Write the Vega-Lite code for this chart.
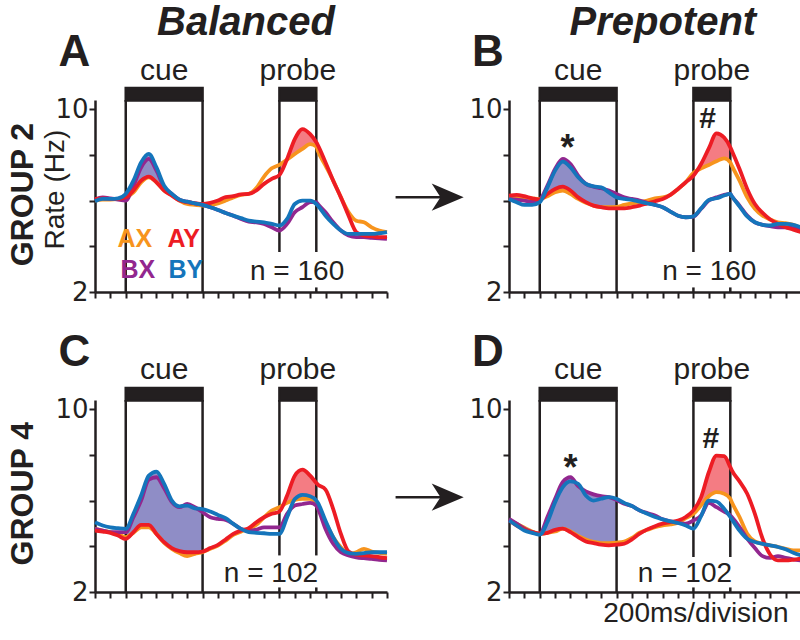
{
"$schema": "https://vega.github.io/schema/vega-lite/v6.json",
"autosize": {"type": "pad"},
"padding": {"left": 7, "top": 2, "right": 0, "bottom": 0},
"background": "white",
"data": {"values": [
{"k":"s","p":"A","t":0,"AX":6.00,"AY":6.07,"BX":6.04,"BY":5.97},
{"k":"s","p":"A","t":0.5,"AX":6.04,"AY":6.10,"BX":6.14,"BY":6.07},
{"k":"s","p":"A","t":1,"AX":6.04,"AY":6.07,"BX":6.10,"BY":6.07},
{"k":"s","p":"A","t":1.5,"AX":6.07,"AY":6.07,"BX":6.04,"BY":6.10},
{"k":"s","p":"A","t":2,"AX":6.14,"AY":6.14,"BX":6.00,"BY":6.29},
{"k":"s","p":"A","t":2.5,"AX":6.36,"AY":6.44,"BX":6.65,"BY":6.87},
{"k":"s","p":"A","t":3,"AX":6.80,"AY":6.87,"BX":7.45,"BY":7.67},
{"k":"s","p":"A","t":3.5,"AX":7.02,"AY":7.05,"BX":7.82,"BY":8.04},
{"k":"s","p":"A","t":4,"AX":6.80,"AY":6.80,"BX":7.31,"BY":7.45},
{"k":"s","p":"A","t":4.5,"AX":6.44,"AY":6.44,"BX":6.58,"BY":6.65},
{"k":"s","p":"A","t":5,"AX":6.25,"AY":6.22,"BX":6.29,"BY":6.29},
{"k":"s","p":"A","t":5.5,"AX":6.00,"AY":6.00,"BX":6.04,"BY":6.04},
{"k":"s","p":"A","t":6,"AX":5.85,"AY":5.93,"BX":5.95,"BY":5.95},
{"k":"s","p":"A","t":6.5,"AX":5.81,"AY":5.88,"BX":5.88,"BY":5.88},
{"k":"s","p":"A","t":7,"AX":5.78,"AY":5.85,"BX":5.81,"BY":5.81},
{"k":"s","p":"A","t":7.5,"AX":5.81,"AY":5.90,"BX":5.71,"BY":5.71},
{"k":"s","p":"A","t":8,"AX":5.88,"AY":6.00,"BX":5.59,"BY":5.59},
{"k":"s","p":"A","t":8.5,"AX":6.00,"AY":6.15,"BX":5.46,"BY":5.46},
{"k":"s","p":"A","t":9,"AX":6.14,"AY":6.19,"BX":5.34,"BY":5.34},
{"k":"s","p":"A","t":9.5,"AX":6.25,"AY":6.27,"BX":5.20,"BY":5.23},
{"k":"s","p":"A","t":10,"AX":6.29,"AY":6.29,"BX":5.08,"BY":5.12},
{"k":"s","p":"A","t":10.5,"AX":6.55,"AY":6.44,"BX":5.05,"BY":5.08},
{"k":"s","p":"A","t":11,"AX":7.05,"AY":6.73,"BX":4.98,"BY":5.05},
{"k":"s","p":"A","t":11.5,"AX":7.41,"AY":6.95,"BX":4.83,"BY":4.98},
{"k":"s","p":"A","t":12,"AX":7.56,"AY":7.12,"BX":4.69,"BY":4.91},
{"k":"s","p":"A","t":12.5,"AX":7.79,"AY":7.82,"BX":4.98,"BY":5.20},
{"k":"s","p":"A","t":13,"AX":8.04,"AY":8.69,"BX":5.49,"BY":5.85},
{"k":"s","p":"A","t":13.5,"AX":8.26,"AY":9.13,"BX":5.71,"BY":6.00},
{"k":"s","p":"A","t":14,"AX":8.47,"AY":8.91,"BX":5.93,"BY":6.00},
{"k":"s","p":"A","t":14.4,"AX":8.37,"AY":8.55,"BX":5.93,"BY":5.85},
{"k":"s","p":"A","t":14.5,"AX":8.18,"AY":8.43,"BX":5.85,"BY":5.78},
{"k":"s","p":"A","t":15,"AX":7.53,"AY":7.67,"BX":5.49,"BY":5.34},
{"k":"s","p":"A","t":15.5,"AX":6.87,"AY":6.87,"BX":5.05,"BY":4.98},
{"k":"s","p":"A","t":16,"AX":6.14,"AY":6.14,"BX":4.69,"BY":4.69},
{"k":"s","p":"A","t":16.5,"AX":5.49,"AY":5.34,"BX":4.47,"BY":4.54},
{"k":"s","p":"A","t":17,"AX":5.12,"AY":4.62,"BX":4.40,"BY":4.54},
{"k":"s","p":"A","t":17.5,"AX":5.05,"AY":4.47,"BX":4.40,"BY":4.54},
{"k":"s","p":"A","t":18,"AX":4.83,"AY":4.44,"BX":4.37,"BY":4.54},
{"k":"s","p":"A","t":18.5,"AX":4.69,"AY":4.40,"BX":4.35,"BY":4.57},
{"k":"s","p":"A","t":19,"AX":4.62,"AY":4.40,"BX":4.32,"BY":4.62},
{"k":"s","p":"B","t":0,"AX":6.14,"AY":6.22,"BX":6.07,"BY":6.07},
{"k":"s","p":"B","t":0.5,"AX":6.14,"AY":6.25,"BX":6.04,"BY":5.93},
{"k":"s","p":"B","t":1,"AX":6.13,"AY":6.19,"BX":6.00,"BY":5.81},
{"k":"s","p":"B","t":1.5,"AX":6.10,"AY":6.10,"BX":5.95,"BY":5.81},
{"k":"s","p":"B","t":2,"AX":6.07,"AY":6.04,"BX":6.04,"BY":5.93},
{"k":"s","p":"B","t":2.5,"AX":6.19,"AY":6.29,"BX":6.65,"BY":6.58},
{"k":"s","p":"B","t":3,"AX":6.36,"AY":6.51,"BX":7.38,"BY":7.31},
{"k":"s","p":"B","t":3.5,"AX":6.44,"AY":6.61,"BX":7.82,"BY":7.70},
{"k":"s","p":"B","t":4,"AX":6.29,"AY":6.44,"BX":7.60,"BY":7.45},
{"k":"s","p":"B","t":4.5,"AX":6.07,"AY":6.14,"BX":7.09,"BY":7.02},
{"k":"s","p":"B","t":5,"AX":5.90,"AY":5.93,"BX":6.73,"BY":6.73},
{"k":"s","p":"B","t":5.5,"AX":5.78,"AY":5.78,"BX":6.61,"BY":6.62},
{"k":"s","p":"B","t":6,"AX":5.71,"AY":5.71,"BX":6.54,"BY":6.58},
{"k":"s","p":"B","t":6.5,"AX":5.71,"AY":5.66,"BX":6.44,"BY":6.36},
{"k":"s","p":"B","t":7,"AX":5.72,"AY":5.66,"BX":6.29,"BY":6.14},
{"k":"s","p":"B","t":7.5,"AX":5.81,"AY":5.66,"BX":6.14,"BY":6.07},
{"k":"s","p":"B","t":8,"AX":5.88,"AY":5.71,"BX":6.07,"BY":6.03},
{"k":"s","p":"B","t":8.5,"AX":5.93,"AY":5.78,"BX":6.00,"BY":5.95},
{"k":"s","p":"B","t":9,"AX":6.00,"AY":5.88,"BX":5.90,"BY":5.88},
{"k":"s","p":"B","t":9.5,"AX":6.10,"AY":5.97,"BX":5.81,"BY":5.81},
{"k":"s","p":"B","t":10,"AX":6.14,"AY":6.07,"BX":5.71,"BY":5.71},
{"k":"s","p":"B","t":10.5,"AX":6.25,"AY":6.25,"BX":5.52,"BY":5.52},
{"k":"s","p":"B","t":11,"AX":6.51,"AY":6.51,"BX":5.34,"BY":5.34},
{"k":"s","p":"B","t":11.5,"AX":6.80,"AY":6.80,"BX":5.27,"BY":5.27},
{"k":"s","p":"B","t":12,"AX":7.21,"AY":7.09,"BX":5.30,"BY":5.31},
{"k":"s","p":"B","t":12.5,"AX":7.41,"AY":7.60,"BX":5.64,"BY":5.66},
{"k":"s","p":"B","t":13,"AX":7.56,"AY":8.28,"BX":6.00,"BY":6.03},
{"k":"s","p":"B","t":13.5,"AX":7.72,"AY":8.94,"BX":6.14,"BY":6.10},
{"k":"s","p":"B","t":14,"AX":7.85,"AY":8.76,"BX":6.25,"BY":6.22},
{"k":"s","p":"B","t":14.4,"AX":7.67,"AY":8.33,"BX":6.29,"BY":6.29},
{"k":"s","p":"B","t":14.5,"AX":7.53,"AY":8.18,"BX":6.19,"BY":6.19},
{"k":"s","p":"B","t":15,"AX":6.87,"AY":7.38,"BX":5.78,"BY":5.75},
{"k":"s","p":"B","t":15.5,"AX":6.14,"AY":6.51,"BX":5.34,"BY":5.31},
{"k":"s","p":"B","t":16,"AX":5.64,"AY":5.85,"BX":5.05,"BY":5.05},
{"k":"s","p":"B","t":16.5,"AX":5.34,"AY":5.46,"BX":4.94,"BY":4.94},
{"k":"s","p":"B","t":17,"AX":5.17,"AY":5.17,"BX":4.88,"BY":4.91},
{"k":"s","p":"B","t":17.5,"AX":5.05,"AY":4.98,"BX":4.83,"BY":4.98},
{"k":"s","p":"B","t":18,"AX":5.01,"AY":4.83,"BX":4.83,"BY":4.98},
{"k":"s","p":"B","t":18.5,"AX":4.94,"AY":4.73,"BX":4.79,"BY":4.94},
{"k":"s","p":"B","t":19,"AX":4.79,"AY":4.62,"BX":4.73,"BY":4.83},
{"k":"s","p":"C","t":0,"AX":4.76,"AY":4.69,"BX":4.76,"BY":5.05},
{"k":"s","p":"C","t":0.5,"AX":4.69,"AY":4.64,"BX":4.69,"BY":4.91},
{"k":"s","p":"C","t":1,"AX":4.62,"AY":4.59,"BX":4.62,"BY":4.83},
{"k":"s","p":"C","t":1.5,"AX":4.54,"AY":4.47,"BX":4.62,"BY":4.79},
{"k":"s","p":"C","t":2,"AX":4.40,"AY":4.32,"BX":4.62,"BY":4.76},
{"k":"s","p":"C","t":2.5,"AX":4.59,"AY":4.62,"BX":5.27,"BY":5.42},
{"k":"s","p":"C","t":3,"AX":4.83,"AY":4.94,"BX":6.00,"BY":6.22},
{"k":"s","p":"C","t":3.5,"AX":4.83,"AY":4.94,"BX":6.92,"BY":7.09},
{"k":"s","p":"C","t":4,"AX":4.54,"AY":4.54,"BX":7.02,"BY":7.27},
{"k":"s","p":"C","t":4.5,"AX":4.15,"AY":4.18,"BX":6.54,"BY":6.73},
{"k":"s","p":"C","t":5,"AX":3.89,"AY":3.92,"BX":5.93,"BY":6.00},
{"k":"s","p":"C","t":5.5,"AX":3.70,"AY":3.79,"BX":5.71,"BY":5.75},
{"k":"s","p":"C","t":6,"AX":3.57,"AY":3.74,"BX":5.85,"BY":5.78},
{"k":"s","p":"C","t":6.5,"AX":3.67,"AY":3.74,"BX":5.71,"BY":5.66},
{"k":"s","p":"C","t":7,"AX":3.74,"AY":3.77,"BX":5.49,"BY":5.63},
{"k":"s","p":"C","t":7.5,"AX":3.89,"AY":3.92,"BX":5.27,"BY":5.52},
{"k":"s","p":"C","t":8,"AX":4.03,"AY":4.06,"BX":5.20,"BY":5.37},
{"k":"s","p":"C","t":8.5,"AX":4.25,"AY":4.30,"BX":5.15,"BY":5.23},
{"k":"s","p":"C","t":9,"AX":4.50,"AY":4.54,"BX":4.98,"BY":4.98},
{"k":"s","p":"C","t":9.5,"AX":4.64,"AY":4.69,"BX":4.76,"BY":4.76},
{"k":"s","p":"C","t":10,"AX":4.76,"AY":4.79,"BX":4.69,"BY":4.62},
{"k":"s","p":"C","t":10.5,"AX":4.94,"AY":5.05,"BX":4.73,"BY":4.59},
{"k":"s","p":"C","t":11,"AX":5.27,"AY":5.27,"BX":4.83,"BY":4.57},
{"k":"s","p":"C","t":11.5,"AX":5.56,"AY":5.42,"BX":4.83,"BY":4.54},
{"k":"s","p":"C","t":12,"AX":5.71,"AY":5.52,"BX":4.83,"BY":4.54},
{"k":"s","p":"C","t":12.5,"AX":5.90,"AY":6.22,"BX":5.42,"BY":5.27},
{"k":"s","p":"C","t":13,"AX":6.03,"AY":7.09,"BX":5.78,"BY":6.07},
{"k":"s","p":"C","t":13.5,"AX":6.07,"AY":7.35,"BX":5.85,"BY":6.25},
{"k":"s","p":"C","t":14,"AX":6.07,"AY":7.09,"BX":5.90,"BY":6.19},
{"k":"s","p":"C","t":14.4,"AX":5.81,"AY":6.77,"BX":5.78,"BY":6.00},
{"k":"s","p":"C","t":14.5,"AX":5.71,"AY":6.70,"BX":5.66,"BY":5.90},
{"k":"s","p":"C","t":15,"AX":5.05,"AY":6.48,"BX":4.76,"BY":5.12},
{"k":"s","p":"C","t":15.5,"AX":4.40,"AY":5.63,"BX":4.11,"BY":4.40},
{"k":"s","p":"C","t":16,"AX":3.96,"AY":4.54,"BX":3.74,"BY":3.89},
{"k":"s","p":"C","t":16.5,"AX":3.67,"AY":3.77,"BX":3.60,"BY":3.70},
{"k":"s","p":"C","t":17,"AX":3.74,"AY":3.63,"BX":3.52,"BY":3.67},
{"k":"s","p":"C","t":17.5,"AX":3.89,"AY":3.60,"BX":3.48,"BY":3.70},
{"k":"s","p":"C","t":18,"AX":3.77,"AY":3.57,"BX":3.45,"BY":3.74},
{"k":"s","p":"C","t":18.5,"AX":3.71,"AY":3.52,"BX":3.41,"BY":3.74},
{"k":"s","p":"C","t":19,"AX":3.67,"AY":3.48,"BX":3.38,"BY":3.74},
{"k":"s","p":"D","t":0,"AX":5.13,"AY":5.13,"BX":5.20,"BY":5.13},
{"k":"s","p":"D","t":0.5,"AX":4.99,"AY":4.91,"BX":4.99,"BY":4.91},
{"k":"s","p":"D","t":1,"AX":4.81,"AY":4.74,"BX":4.77,"BY":4.69},
{"k":"s","p":"D","t":1.5,"AX":4.65,"AY":4.62,"BX":4.62,"BY":4.59},
{"k":"s","p":"D","t":2,"AX":4.55,"AY":4.55,"BX":4.55,"BY":4.51},
{"k":"s","p":"D","t":2.5,"AX":4.59,"AY":4.59,"BX":5.28,"BY":5.06},
{"k":"s","p":"D","t":3,"AX":4.65,"AY":4.72,"BX":6.08,"BY":5.93},
{"k":"s","p":"D","t":3.5,"AX":4.77,"AY":4.77,"BX":6.81,"BY":6.59},
{"k":"s","p":"D","t":4,"AX":4.65,"AY":4.62,"BX":7.02,"BY":6.84},
{"k":"s","p":"D","t":4.5,"AX":4.45,"AY":4.40,"BX":6.63,"BY":6.73},
{"k":"s","p":"D","t":5,"AX":4.30,"AY":4.21,"BX":6.40,"BY":6.22},
{"k":"s","p":"D","t":5.5,"AX":4.19,"AY":4.14,"BX":6.27,"BY":6.00},
{"k":"s","p":"D","t":6,"AX":4.14,"AY":4.07,"BX":6.19,"BY":6.08},
{"k":"s","p":"D","t":6.5,"AX":4.14,"AY":4.04,"BX":6.15,"BY":6.15},
{"k":"s","p":"D","t":7,"AX":4.16,"AY":4.07,"BX":6.03,"BY":6.08},
{"k":"s","p":"D","t":7.5,"AX":4.21,"AY":4.11,"BX":5.86,"BY":5.90},
{"k":"s","p":"D","t":8,"AX":4.37,"AY":4.30,"BX":5.76,"BY":5.76},
{"k":"s","p":"D","t":8.5,"AX":4.59,"AY":4.55,"BX":5.57,"BY":5.57},
{"k":"s","p":"D","t":9,"AX":4.72,"AY":4.74,"BX":5.45,"BY":5.42},
{"k":"s","p":"D","t":9.5,"AX":4.84,"AY":4.88,"BX":5.35,"BY":5.28},
{"k":"s","p":"D","t":10,"AX":4.91,"AY":4.99,"BX":5.18,"BY":5.18},
{"k":"s","p":"D","t":10.5,"AX":4.96,"AY":5.06,"BX":5.09,"BY":5.09},
{"k":"s","p":"D","t":11,"AX":5.03,"AY":5.13,"BX":5.03,"BY":5.02},
{"k":"s","p":"D","t":11.5,"AX":5.23,"AY":5.28,"BX":4.99,"BY":4.91},
{"k":"s","p":"D","t":12,"AX":5.42,"AY":5.57,"BX":5.13,"BY":4.77},
{"k":"s","p":"D","t":12.5,"AX":5.79,"AY":6.15,"BX":5.35,"BY":5.32},
{"k":"s","p":"D","t":13,"AX":6.19,"AY":7.24,"BX":5.90,"BY":6.00},
{"k":"s","p":"D","t":13.5,"AX":6.37,"AY":7.97,"BX":5.71,"BY":5.96},
{"k":"s","p":"D","t":14,"AX":6.30,"AY":7.94,"BX":5.52,"BY":5.64},
{"k":"s","p":"D","t":14.4,"AX":6.08,"AY":7.46,"BX":5.35,"BY":5.28},
{"k":"s","p":"D","t":14.5,"AX":5.93,"AY":7.32,"BX":5.28,"BY":5.18},
{"k":"s","p":"D","t":15,"AX":5.28,"AY":6.84,"BX":4.84,"BY":4.69},
{"k":"s","p":"D","t":15.5,"AX":4.55,"AY":6.30,"BX":4.33,"BY":4.33},
{"k":"s","p":"D","t":16,"AX":4.21,"AY":5.42,"BX":3.92,"BY":4.19},
{"k":"s","p":"D","t":16.5,"AX":4.11,"AY":4.33,"BX":3.57,"BY":4.11},
{"k":"s","p":"D","t":17,"AX":4.04,"AY":3.63,"BX":3.49,"BY":4.04},
{"k":"s","p":"D","t":17.5,"AX":3.97,"AY":3.38,"BX":3.57,"BY":3.97},
{"k":"s","p":"D","t":18,"AX":3.89,"AY":3.38,"BX":3.49,"BY":3.87},
{"k":"s","p":"D","t":18.5,"AX":3.82,"AY":3.41,"BX":3.43,"BY":3.72},
{"k":"s","p":"D","t":19,"AX":3.82,"AY":3.46,"BX":3.38,"BY":3.60},
{"k":"win","p":"A","t":2,"v":2,"v2":10.4},{"k":"win","p":"A","t":7,"v":2,"v2":10.4},
{"k":"win","p":"A","t":12,"v":3.75,"v2":10.4},{"k":"win","p":"A","t":14.4,"v":3.75,"v2":10.4},
{"k":"win","p":"A","t":12,"v":2,"v2":2.2},{"k":"win","p":"A","t":14.4,"v":2,"v2":2.2},
{"k":"win","p":"B","t":2,"v":2,"v2":10.4},{"k":"win","p":"B","t":7,"v":2,"v2":10.4},
{"k":"win","p":"B","t":12,"v":3.75,"v2":10.4},{"k":"win","p":"B","t":14.4,"v":3.75,"v2":10.4},
{"k":"win","p":"B","t":12,"v":2,"v2":2.2},{"k":"win","p":"B","t":14.4,"v":2,"v2":2.2},
{"k":"win","p":"C","t":2,"v":2,"v2":10.4},{"k":"win","p":"C","t":7,"v":2,"v2":10.4},
{"k":"win","p":"C","t":12,"v":3.6,"v2":10.4},{"k":"win","p":"C","t":14.4,"v":3.6,"v2":10.4},
{"k":"win","p":"C","t":12,"v":2,"v2":2.2},{"k":"win","p":"C","t":14.4,"v":2,"v2":2.2},
{"k":"win","p":"D","t":2,"v":2,"v2":10.4},{"k":"win","p":"D","t":7,"v":2,"v2":10.4},
{"k":"win","p":"D","t":12,"v":3.53,"v2":10.4},{"k":"win","p":"D","t":14.4,"v":3.53,"v2":10.4},
{"k":"win","p":"D","t":12,"v":2,"v2":2.2},{"k":"win","p":"D","t":14.4,"v":2,"v2":2.2},
{"k":"bar","p":"A","t":2,"t2":7,"v":10.38,"v2":10.93},{"k":"bar","p":"A","t":12,"t2":14.4,"v":10.38,"v2":10.93},
{"k":"bar","p":"B","t":2,"t2":7,"v":10.38,"v2":10.93},{"k":"bar","p":"B","t":12,"t2":14.4,"v":10.38,"v2":10.93},
{"k":"bar","p":"C","t":2,"t2":7,"v":10.38,"v2":10.93},{"k":"bar","p":"C","t":12,"t2":14.4,"v":10.38,"v2":10.93},
{"k":"bar","p":"D","t":2,"t2":7,"v":10.38,"v2":10.93},{"k":"bar","p":"D","t":12,"t2":14.4,"v":10.38,"v2":10.93},
{"k":"head","p":"A","t":9.82,"v":13.79,"text":"Balanced"},
{"k":"head","p":"B","t":10.01,"v":13.79,"text":"Prepotent"},
{"k":"letter","p":"A","t":-1.34,"v":12.44,"text":"A"},
{"k":"letter","p":"B","t":-1.38,"v":12.44,"text":"B"},
{"k":"letter","p":"C","t":-1.34,"v":12.44,"text":"C"},
{"k":"letter","p":"D","t":-1.38,"v":12.44,"text":"D"},
{"k":"epoch","p":"A","t":4.5,"v":11.69,"text":"cue"},{"k":"epoch","p":"A","t":13.2,"v":11.69,"text":"probe"},
{"k":"epoch","p":"B","t":4.5,"v":11.69,"text":"cue"},{"k":"epoch","p":"B","t":13.2,"v":11.69,"text":"probe"},
{"k":"epoch","p":"C","t":4.5,"v":11.72,"text":"cue"},{"k":"epoch","p":"C","t":13.2,"v":11.72,"text":"probe"},
{"k":"epoch","p":"D","t":4.5,"v":11.72,"text":"cue"},{"k":"epoch","p":"D","t":13.2,"v":11.72,"text":"probe"},
{"k":"plain","p":"A","t":13.15,"v":2.87,"text":"n = 160"},
{"k":"plain","p":"B","t":13.03,"v":2.87,"text":"n = 160"},
{"k":"plain","p":"C","t":11.45,"v":2.79,"text":"n = 102"},
{"k":"plain","p":"D","t":11.45,"v":2.79,"text":"n = 102"},
{"k":"plain","p":"D","t":12.16,"v":1.04,"text":"200ms/division"},
{"k":"leg","p":"A","t":2.59,"v":4.31,"text":"AX"},
{"k":"leg","p":"A","t":5.78,"v":4.31,"text":"AY"},
{"k":"leg","p":"A","t":2.79,"v":2.96,"text":"BX"},
{"k":"leg","p":"A","t":5.91,"v":2.96,"text":"BY"},
{"k":"group","p":"A","t":-4.68,"v":6.26,"text":"GROUP 2"},
{"k":"group","p":"C","t":-4.68,"v":6.30,"text":"GROUP 4"},
{"k":"rate","p":"A","t":-2.56,"v":6.48,"text":"Rate (Hz)"},
{"k":"star","p":"B","t":3.8,"v":8.27,"text":"*"},
{"k":"star","p":"D","t":4.0,"v":7.39,"text":"*"},
{"k":"hash","p":"B","t":12.93,"v":9.55,"text":"#"},
{"k":"hash","p":"D","t":13.13,"v":8.68,"text":"#"},
{"k":"arrow","p":"B","t":-7.38,"t2":-4.2,"v":6.15},
{"k":"arrow","p":"D","t":-7.38,"t2":-4.2,"v":6.15},
{"k":"tip","p":"B","t":-3.99,"v":6.15},
{"k":"tip","p":"D","t":-3.99,"v":6.15}
]},
"facet": {"field": "p", "type": "nominal", "header": {"title": null, "labels": false, "labelExpr": "''", "labelFontSize": 0, "labelPadding": 0}},
"columns": 2,
"spacing": {"row": 108, "column": 122},
"bounds": "flush",
"resolve": {"axis": {"x": "independent", "y": "independent"}},
"spec": {
"width": 292,
"height": 192,
"encoding": {
  "x": {"field": "t", "type": "quantitative", "title": null, "scale": {"domain": [0, 19], "nice": false, "zero": false},
        "axis": {"values": [0,1,2,3,4,5,6,7,8,9,10,11,12,13,14,15,16,17,18,19], "labels": false, "title": null, "tickSize": 6}}
},
"layer": [
 {"transform": [{"filter": "datum.k == 's' && datum.t >= 2 && datum.t <= 7"}],
  "mark": {"type": "area", "color": "#8f8dc6", "interpolate": "monotone", "opacity": 1},
  "encoding": {"y": {"field": "AX", "type": "quantitative", "title": null, "scale": {"domain": [2, 10.4], "nice": false, "zero": false},
      "axis": {"values": [2,3,4,5,6,7,8,9,10], "labelExpr": "datum.value == 2 || datum.value == 10 ? datum.label : ''", "title": null, "tickSize": 6, "labelPadding": 1, "labelFontSize": 26, "labelFont": "DejaVu Sans", "labelColor": "#231f20"}},
    "y2": {"field": "BY"}}},
 {"transform": [{"filter": "datum.k == 's' && datum.t >= 2 && datum.t <= 7"}],
  "mark": {"type": "area", "color": "#8f8dc6", "interpolate": "monotone", "opacity": 1},
  "encoding": {"y": {"field": "AY", "type": "quantitative", "title": null, "scale": {"domain": [2, 10.4], "nice": false, "zero": false}},
    "y2": {"field": "BX"}}},
 {"transform": [{"filter": "datum.k == 's' && datum.t >= 12 && datum.t <= 14.4"}],
  "mark": {"type": "area", "color": "#f47c83", "interpolate": "monotone", "opacity": 1},
  "encoding": {"y": {"field": "AX", "type": "quantitative", "title": null, "scale": {"domain": [2, 10.4], "nice": false, "zero": false}},
    "y2": {"field": "AY"}}},
 {"transform": [{"filter": "datum.k == 'win'"}],
  "mark": {"type": "rule", "color": "#231f20", "strokeWidth": 2.5},
  "encoding": {"y": {"field": "v", "type": "quantitative", "title": null, "scale": {"domain": [2, 10.4], "nice": false, "zero": false}},
    "y2": {"field": "v2"}}},
 {"transform": [{"filter": "datum.k == 'bar'"}],
  "mark": {"type": "rect", "color": "#231f20", "stroke": "#231f20", "strokeWidth": 2.5},
  "encoding": {"x2": {"field": "t2"},
    "y": {"field": "v", "type": "quantitative", "title": null, "scale": {"domain": [2, 10.4], "nice": false, "zero": false}},
    "y2": {"field": "v2"}}},
 {"transform": [{"filter": "datum.k == 'arrow'"}],
  "mark": {"type": "rule", "color": "#231f20", "strokeWidth": 2.5},
  "encoding": {"x2": {"field": "t2"},
    "y": {"field": "v", "type": "quantitative", "title": null, "scale": {"domain": [2, 10.4], "nice": false, "zero": false}}}},
 {"transform": [{"filter": "datum.k == 'tip'"}],
  "mark": {"type": "point", "filled": true, "color": "#231f20", "opacity": 1, "size": 1024, "shape": "M1,0 L-1,-0.85 L-0.45,0 L-1,0.85 Z"},
  "encoding": {"y": {"field": "v", "type": "quantitative", "title": null, "scale": {"domain": [2, 10.4], "nice": false, "zero": false}}}},
 {"transform": [{"filter": "datum.k == 's'"}],
  "mark": {"type": "line", "color": "#f7941d", "strokeWidth": 3.8, "interpolate": "monotone"},
  "encoding": {"y": {"field": "AX", "type": "quantitative", "title": null, "scale": {"domain": [2, 10.4], "nice": false, "zero": false}}}},
 {"transform": [{"filter": "datum.k == 's'"}],
  "mark": {"type": "line", "color": "#92278f", "strokeWidth": 3.8, "interpolate": "monotone"},
  "encoding": {"y": {"field": "BX", "type": "quantitative", "title": null, "scale": {"domain": [2, 10.4], "nice": false, "zero": false}}}},
 {"transform": [{"filter": "datum.k == 's'"}],
  "mark": {"type": "line", "color": "#ed1c24", "strokeWidth": 3.8, "interpolate": "monotone"},
  "encoding": {"y": {"field": "AY", "type": "quantitative", "title": null, "scale": {"domain": [2, 10.4], "nice": false, "zero": false}}}},
 {"transform": [{"filter": "datum.k == 's'"}],
  "mark": {"type": "line", "color": "#1575bb", "strokeWidth": 3.8, "interpolate": "monotone"},
  "encoding": {"y": {"field": "BY", "type": "quantitative", "title": null, "scale": {"domain": [2, 10.4], "nice": false, "zero": false}}}},
 {"transform": [{"filter": "datum.k == 'head'"}],
  "mark": {"type": "text", "fontSize": 40, "fontWeight": "bold", "fontStyle": "italic", "color": "#231f20", "baseline": "middle", "align": "center"},
  "encoding": {"y": {"field": "v", "type": "quantitative", "title": null, "scale": {"domain": [2, 10.4], "nice": false, "zero": false}}, "text": {"field": "text"}}},
 {"transform": [{"filter": "datum.k == 'letter'"}],
  "mark": {"type": "text", "fontSize": 44, "fontWeight": "bold", "color": "#231f20", "baseline": "middle", "align": "center"},
  "encoding": {"y": {"field": "v", "type": "quantitative", "title": null, "scale": {"domain": [2, 10.4], "nice": false, "zero": false}}, "text": {"field": "text"}}},
 {"transform": [{"filter": "datum.k == 'epoch'"}],
  "mark": {"type": "text", "fontSize": 30, "color": "#231f20", "baseline": "middle", "align": "center"},
  "encoding": {"y": {"field": "v", "type": "quantitative", "title": null, "scale": {"domain": [2, 10.4], "nice": false, "zero": false}}, "text": {"field": "text"}}},
 {"transform": [{"filter": "datum.k == 'plain'"}],
  "mark": {"type": "text", "fontSize": 28, "color": "#231f20", "baseline": "middle", "align": "center"},
  "encoding": {"y": {"field": "v", "type": "quantitative", "title": null, "scale": {"domain": [2, 10.4], "nice": false, "zero": false}}, "text": {"field": "text"}}},
 {"transform": [{"filter": "datum.k == 'leg'"}],
  "mark": {"type": "text", "fontSize": 25, "fontWeight": "bold", "baseline": "middle", "align": "center"},
  "encoding": {"y": {"field": "v", "type": "quantitative", "title": null, "scale": {"domain": [2, 10.4], "nice": false, "zero": false}}, "text": {"field": "text"},
    "color": {"field": "text", "type": "nominal", "scale": {"domain": ["AX","AY","BX","BY"], "range": ["#f7941d","#ed1c24","#92278f","#1575bb"]}, "legend": null}}},
 {"transform": [{"filter": "datum.k == 'group'"}],
  "mark": {"type": "text", "fontSize": 32, "fontWeight": "bold", "color": "#231f20", "baseline": "middle", "align": "center", "angle": 270},
  "encoding": {"y": {"field": "v", "type": "quantitative", "title": null, "scale": {"domain": [2, 10.4], "nice": false, "zero": false}}, "text": {"field": "text"}}},
 {"transform": [{"filter": "datum.k == 'rate'"}],
  "mark": {"type": "text", "fontSize": 28, "color": "#231f20", "baseline": "middle", "align": "center", "angle": 270},
  "encoding": {"y": {"field": "v", "type": "quantitative", "title": null, "scale": {"domain": [2, 10.4], "nice": false, "zero": false}}, "text": {"field": "text"}}},
 {"transform": [{"filter": "datum.k == 'star'"}],
  "mark": {"type": "text", "fontSize": 36, "fontWeight": "bold", "color": "#231f20", "baseline": "middle", "align": "center"},
  "encoding": {"y": {"field": "v", "type": "quantitative", "title": null, "scale": {"domain": [2, 10.4], "nice": false, "zero": false}}, "text": {"field": "text"}}},
 {"transform": [{"filter": "datum.k == 'hash'"}],
  "mark": {"type": "text", "fontSize": 30, "fontWeight": "bold", "color": "#231f20", "baseline": "middle", "align": "center"},
  "encoding": {"y": {"field": "v", "type": "quantitative", "title": null, "scale": {"domain": [2, 10.4], "nice": false, "zero": false}}, "text": {"field": "text"}}}
]
},
"config": {
  "view": {"stroke": null},
  "font": "Liberation Sans",
  "header": {"labels": false, "title": null, "labelFontSize": 0},
  "axis": {"grid": false, "domainColor": "#231f20", "domainWidth": 2.5, "tickColor": "#231f20", "tickWidth": 2, "labelFont": "DejaVu Sans", "labelFontSize": 26, "labelColor": "#231f20"}
}
}
